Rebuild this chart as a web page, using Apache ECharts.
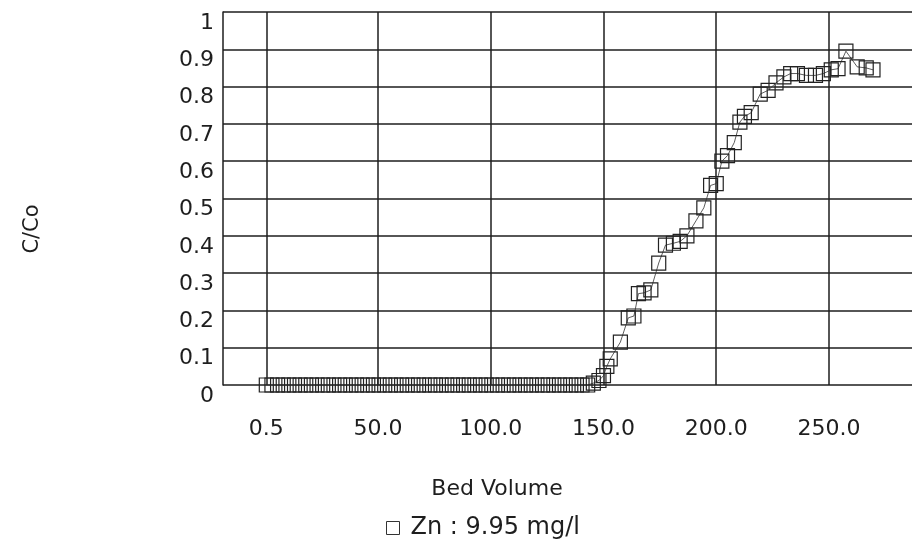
<!DOCTYPE html>
<html>
<head>
<meta charset="utf-8">
<script src="https://cdn.jsdelivr.net/npm/echarts@6/dist/echarts.min.js"></script>
<style>
html,body{margin:0;padding:0;background:#fff;}
#chart{width:912px;height:553px;}
</style>
</head>
<body>
<div id="chart"></div>
<script>
// ---- data ----
const xTickValues = [0.5, 50, 100, 150, 200, 250];
const yTickValues = [0, 0.1, 0.2, 0.3, 0.4, 0.5, 0.6, 0.7, 0.8, 0.9, 1];
const seriesName = 'Zn : 9.95 mg/l';
const xTitle = 'Bed Volume';
const yTitle = 'C/Co';

const bedVolume = [
  0.5, 3, 5.5, 8, 10.5, 13, 15.5, 18, 20.5, 23, 25.5, 28, 30.5, 33, 35.5, 38, 40.5, 43, 45.5, 48,
  50.5, 53, 55.5, 58, 60.5, 63, 65.5, 68, 70.5, 73, 75.5, 78, 80.5, 83, 85.5, 88, 90.5, 93, 95.5, 98,
  100.5, 103, 105.5, 108, 110.5, 113, 115.5, 118, 120.5, 123, 125.5, 128, 130.5, 133, 135.5, 138, 140.5, 143,
  145.5, 148, 150, 151.5, 153, 157.5, 161, 163.5, 165.5, 168, 171, 174.5, 177.5, 181, 184, 187,
  191, 194.5, 197.5, 200, 202.5, 205, 208, 210.5, 212.5, 215.5, 219.5, 223, 226.5, 230, 233, 236,
  240, 244, 247.5, 251, 254, 257.5, 262.5, 266.5, 269.5
];
const cOverC0 = [
  0, 0, 0, 0, 0, 0, 0, 0, 0, 0, 0, 0, 0, 0, 0, 0, 0, 0, 0, 0,
  0, 0, 0, 0, 0, 0, 0, 0, 0, 0, 0, 0, 0, 0, 0, 0, 0, 0, 0, 0,
  0, 0, 0, 0, 0, 0, 0, 0, 0, 0, 0, 0, 0, 0, 0, 0, 0, 0,
  0.005, 0.012, 0.025, 0.05, 0.07, 0.115, 0.18, 0.185, 0.245, 0.247, 0.255, 0.327, 0.375, 0.38, 0.385, 0.4,
  0.44, 0.475, 0.535, 0.54, 0.6, 0.615, 0.65, 0.705, 0.72, 0.73, 0.78, 0.79, 0.81, 0.826, 0.835, 0.835,
  0.83, 0.83, 0.835, 0.845, 0.848, 0.895, 0.853, 0.85, 0.845
];

const points = bedVolume.map((x, i) => [x, cOverC0[i]]);
const FONT = '"DejaVu Sans", Verdana, sans-serif';
const INK = '#1e1e1e';

const chart = echarts.init(document.getElementById('chart'), null, {renderer: 'canvas'});
chart.setOption({
  backgroundColor: '#ffffff',
  animation: false,
  grid: {left: 223, top: 12, right: 0, bottom: 168, containLabel: false},
  xAxis: {
    type: 'value',
    min: -18.7, max: 286.8,
    axisLine: {show: false},
    axisTick: {show: false, customValues: xTickValues},
    splitLine: {show: true, lineStyle: {color: INK, width: 1.5}},
    axisLabel: {
      customValues: xTickValues,
      formatter: v => Number(v).toFixed(1),
      margin: 33,
      fontFamily: FONT, fontSize: 22, color: INK
    }
  },
  yAxis: {
    type: 'value',
    min: 0, max: 1, interval: 0.1,
    axisLine: {show: true, onZero: false, lineStyle: {color: INK, width: 1.5}},
    axisTick: {show: false},
    splitLine: {show: true, lineStyle: {color: INK, width: 1.5}},
    axisLabel: {
      formatter: v => String(Math.round(v * 10) / 10),
      margin: 9,
      verticalAlign: 'top',
      lineHeight: 22,
      fontFamily: FONT, fontSize: 22, color: INK
    }
  },
  legend: {
    left: 381, top: 511,
    icon: 'rect', itemWidth: 13, itemHeight: 13, itemGap: 8,
    itemStyle: {color: 'rgba(0,0,0,0)', borderColor: '#333', borderWidth: 1},
    textStyle: {fontFamily: FONT, fontSize: 24, color: INK, padding: [0, 0, 0, 6]},
    data: [seriesName]
  },
  graphic: [
    {type: 'text', x: 497, y: 489,
     style: {text: xTitle, font: '22px ' + FONT, fill: INK, align: 'center', verticalAlign: 'middle'}},
    {type: 'text', x: 33, y: 229, rotation: Math.PI / 2,
     style: {text: yTitle, font: '21px ' + FONT, fill: INK, align: 'center', verticalAlign: 'middle'}}
  ],
  series: [{
    name: seriesName,
    type: 'line',
    data: points,
    showAllSymbol: true,
    symbol: 'rect',
    symbolSize: 14,
    itemStyle: {color: 'rgba(0,0,0,0)', borderColor: '#222', borderWidth: 1.2},
    lineStyle: {color: '#333', width: 0.8},
    clip: false,
    z: 5
  }]
});
</script>
</body>
</html>
